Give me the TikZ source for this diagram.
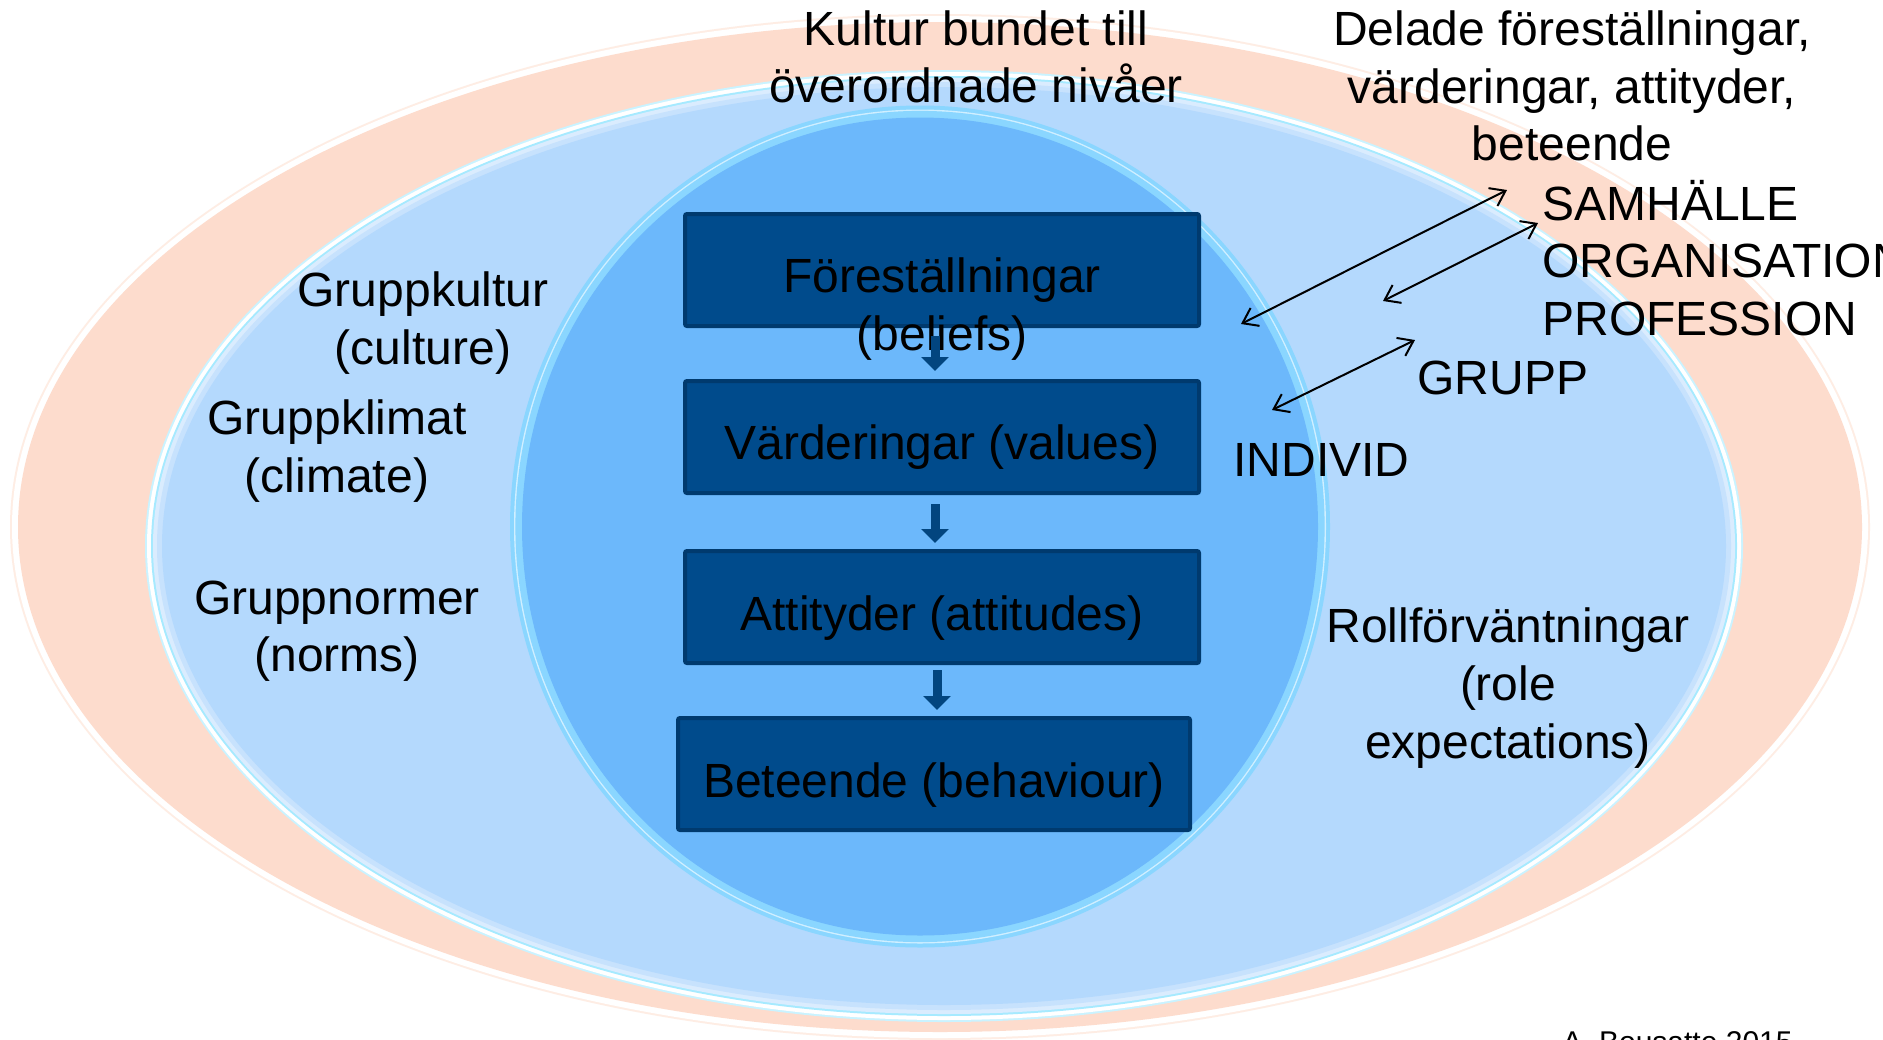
\documentclass[tikz,border=0pt]{standalone}
\usepackage{fontspec}
\setmainfont{Liberation Sans}
\usetikzlibrary{arrows.meta}
\definecolor{peach}{HTML}{FDDCCD}
\definecolor{palepeach}{HTML}{FEEDE4}
\definecolor{lightblue}{HTML}{B4D9FD}
\definecolor{midblue}{HTML}{6CB8FB}
\definecolor{boxblue}{HTML}{004B8C}
\definecolor{boxedge}{HTML}{003A6E}
\definecolor{arrowblue}{HTML}{02457F}
\definecolor{rimcyan}{HTML}{A6EAFF}
\definecolor{rimblue}{HTML}{8AD6FF}
\begin{document}
\begin{tikzpicture}[x=0.5pt,y=-0.5pt,
  lbl/.style={inner sep=0pt, align=center, font=\fontsize{24pt}{28.8pt}\selectfont},
  lbll/.style={inner sep=0pt, align=left, anchor=west, font=\fontsize{24pt}{28.8pt}\selectfont},
  stage/.style={draw=boxedge, fill=boxblue, line width=2pt, rounded corners=1pt,
    minimum width=257pt, minimum height=56pt, inner sep=0pt},
  blockarr/.style={draw=arrowblue, line width=4.5pt, -{Triangle[length=7pt,width=13.5pt]}},
  link/.style={black, line width=1pt,
    {Straight Barb[length=7pt,width=10pt]}-{Straight Barb[length=7pt,width=10pt]}}
]
\clip (0,0) rectangle (1883,1039);
\fill[white] (0,0) rectangle (1883,1039);
% outer peach ellipse
\fill[palepeach] (940,527) ellipse [x radius=465pt, y radius=256.5pt];
\fill[white] (940,527) ellipse [x radius=464pt, y radius=255.5pt];
\fill[peach] (940,527) ellipse [x radius=461pt, y radius=252.5pt];
% middle light blue ellipse
\fill[rimcyan!60!white] (944,546) ellipse [x radius=399.5pt, y radius=238pt];
\fill[white] (944,546) ellipse [x radius=398.5pt, y radius=237pt];
\fill[rimcyan] (944,546) ellipse [x radius=396.5pt, y radius=235pt];
\fill[lightblue!50!white] (944,546) ellipse [x radius=395.5pt, y radius=234pt];
\fill[lightblue!75!white] (944,546) ellipse [x radius=393.5pt, y radius=232pt];
\fill[lightblue] (944,546) ellipse [x radius=391pt, y radius=229.5pt];
% inner circle
\fill[rimblue] (920,526.5) ellipse [x radius=205pt, y radius=210.5pt];
\fill[white!60!rimblue] (920,526.5) ellipse [x radius=203pt, y radius=208.5pt];
\fill[rimblue] (920,526.5) ellipse [x radius=202.3pt, y radius=207.8pt];
\fill[midblue] (920,526.5) ellipse [x radius=199pt, y radius=204.5pt];

% boxes
\node[stage] (b1) at (942,270) {};
\node[stage] (b2) at (942,437) {};
\node[stage] (b3) at (942,607) {};
\node[stage, minimum width=256pt] (b4) at (934,774) {};
\node[lbl] (b1t) at (942,309) {Föreställningar\\(beliefs)};
\node[lbl] (b2t) at ([yshift=-5pt]b2.center) {Värderingar (values)};
\node[lbl] (b3t) at ([yshift=-5.5pt]b3.center) {Attityder (attitudes)};
\node[lbl] (b4t) at ([yshift=-5.5pt]b4.center) {Beteende (behaviour)};

% block arrows
\draw[blockarr] ([xshift=-3.5pt,yshift=-4pt]b1.south) -- ([xshift=-3.5pt,yshift=4pt]b2.north);
\draw[blockarr] ([xshift=-3.5pt,yshift=-4.5pt]b2.south) -- ([xshift=-3.5pt,yshift=3pt]b3.north);
\draw[blockarr] ([xshift=-2.5pt,yshift=-2.5pt]b3.south) -- ([xshift=1.5pt,yshift=3pt]b4.north);

% labels
\node[lbl] (kultur) at (976,57) {Kultur bundet till\\överordnade nivåer};
\node[lbl] (delade) at (1572,86) {Delade föreställningar,\\värderingar, attityder,\\beteende};
\node[lbll] (levels) at (1542,258) {SAMHÄLLE\\ORGANISATION\\PROFESSION};
\node[lbll] (grupp) at (1417,378) {GRUPP};
\node[lbll] (individ) at (1233,460) {INDIVID};
\node[lbl] (gk) at (423,323) {Gruppkultur\\(culture)};
\node[lbl] (gkl) at (337,451) {Gruppklimat\\(climate)};
\node[lbl] (gn) at (337,631) {Gruppnormer\\(norms)};
\node[lbl] (roll) at (1508,688) {Rollförväntningar\\(role\\expectations)};
\node[inner sep=0pt, anchor=base west, font=\fontsize{15pt}{18pt}\selectfont] (credit) at (1562,1052) {A. Bousatte 2015};

% double-headed connectors
\coordinate (a1s) at (1241,324);
\coordinate (a1e) at (1507,190);
\coordinate (a2s) at (1383,301);
\coordinate (a2e) at (1538,223);
\coordinate (a3s) at (1272,410);
\coordinate (a3e) at (1415,340);
\draw[link] (a1s) -- (a1e);
\draw[link] (a2s) -- (a2e);
\draw[link] (a3s) -- (a3e);
\end{tikzpicture}
\end{document}
